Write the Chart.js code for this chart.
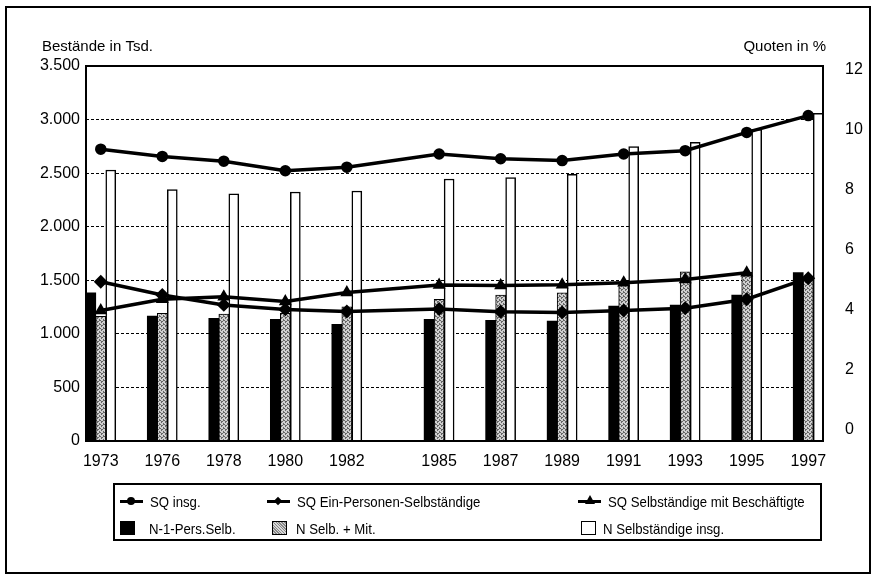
<!DOCTYPE html>
<html>
<head>
<meta charset="utf-8">
<script src="https://cdn.jsdelivr.net/npm/chart.js@4"></script>
<style>
  body { margin: 0; background: #fff; font-family: 'Liberation Sans', Arial, sans-serif; }
  .frame { position: absolute; left: 5px; top: 6px; width: 862px; height: 564px; border: 2px solid #000; }
  #chart { position: absolute; left: 0; top: 0; }
  .legend { position: absolute; left: 113px; top: 483px; width: 705px; height: 54px; border: 2px solid #000; }
  .legend ul { list-style: none; margin: 0; padding: 5px 0 0 0; display: grid; grid-template-columns: 147px 314px 1fr; row-gap: 5px; }
  .legend li { display: flex; align-items: center; font-size: 15px; height: 22px; color: #000; white-space: nowrap; padding-left: 5px; }
  .legend li .txt { display: inline-block; transform: scaleX(0.88); transform-origin: left center; }
  .mark { position: relative; display: inline-block; width: 23px; height: 14px; margin: 0 7px 0 0; flex: none; }
  .mark .ln { position: absolute; left: 0; right: 0; top: 6px; height: 3px; background: #000; }
  .mark .circle { position: absolute; left: 7px; top: 3px; width: 8px; height: 8px; border-radius: 50%; background: #000; }
  .mark .diamond { position: absolute; left: 8px; top: 4px; width: 6px; height: 6px; transform: rotate(45deg); background: #000; }
  .mark .triangle { position: absolute; left: 7px; top: 1px; width: 0; height: 0; border-left: 5px solid transparent; border-right: 5px solid transparent; border-bottom: 9px solid #000; }
  .box { display: inline-block; width: 15px; height: 14px; margin: 0 14px 0 0; border: 1px solid #000; box-sizing: border-box; flex: none; }
  .legend li.c2 .box { margin-left: 5px; margin-right: 9px; }
  .legend li.c3 .box { margin-left: 0; margin-right: 7px; }
  .legend li.c3 .mark { margin-left: -3px; }
</style>
</head>
<body>
<div class="frame"></div>
<canvas id="chart" width="879" height="582"></canvas>
<div class="legend" id="legend"></div>
<script>
const years = ['1973', '1976', '1978', '1980', '1982', '1985', '1987', '1989', '1991', '1993', '1995', '1997'];
const gapAfter = '1982';

// Quoten in % (rechte Achse)
const sqInsg = [9.36, 9.12, 8.96, 8.64, 8.76, 9.20, 9.04, 8.98, 9.20, 9.31, 9.92, 10.48];
const sqEinPersonen = [4.94, 4.50, 4.17, 4.02, 3.95, 4.03, 3.94, 3.92, 3.98, 4.06, 4.36, 5.06];
const sqMitBeschaeftigten = [3.98, 4.36, 4.44, 4.28, 4.58, 4.83, 4.82, 4.84, 4.91, 5.02, 5.24, null];

// Bestände in Tsd. (linke Achse)
const nEinPersSelb = [1384, 1167, 1145, 1136, 1089, 1136, 1126, 1120, 1260, 1269, 1363, 1571];
const nSelbMit = [1164, 1192, 1185, 1192, 1253, 1322, 1363, 1384, 1456, 1580, 1575, 1510];
const nSelbInsg = [2529, 2346, 2308, 2324, 2333, 2445, 2458, 2489, 2747, 2788, 2909, 3058];

const quoteTicks = [0, 2, 4, 6, 8, 10, 12];

const FONT = "'Liberation Sans', Arial, sans-serif";
Chart.defaults.font.family = FONT;
Chart.defaults.color = '#000';

// x position of each year, with the extra half step after 1982
const xPos = years.map((y, i) => i + (i > years.indexOf(gapAfter) ? 0.5 : 0));
const points = values => values.map((v, i) => ({ x: xPos[i], y: v }));

// stippled grey for "N Selb. + Mit."
const greyPattern = (() => {
  const c = document.createElement('canvas');
  c.width = 4; c.height = 4;
  const g = c.getContext('2d');
  g.fillStyle = '#cfcfcf';
  g.fillRect(0, 0, 4, 4);
  g.fillStyle = '#666';
  [[0, 0], [2, 1], [1, 2], [3, 3], [3, 0], [1, 1]].forEach(([x, y]) => g.fillRect(x, y, 1, 1));
  return g.createPattern(c, 'repeat');
})();

const lineDs = (label, data, pointStyle, radius) => ({
  type: 'line', label, data: points(data), yAxisID: 'y1', order: 0,
  borderColor: '#000', borderWidth: 3.5, backgroundColor: '#000',
  pointStyle, pointRadius: radius, pointBackgroundColor: '#000', pointBorderColor: '#000',
  tension: 0, spanGaps: false
});
const barDs = (label, data, fill, border) => ({
  type: 'bar', label, data: points(data), yAxisID: 'y', order: 1,
  backgroundColor: fill, borderColor: '#000', borderWidth: border,
  barThickness: 10
});

const frameAndTitles = {
  id: 'frameAndTitles',
  afterDraw(chart) {
    const { ctx, chartArea: a } = chart;
    ctx.save();
    ctx.strokeStyle = '#000';
    ctx.lineWidth = 2;
    ctx.strokeRect(a.left, a.top, a.right - a.left, a.bottom - a.top);
    ctx.fillStyle = '#000';
    ctx.font = '15px ' + FONT;
    ctx.textBaseline = 'middle';
    ctx.textAlign = 'left';
    ctx.fillText('Bestände in Tsd.', a.left - 44, a.top - 19);
    ctx.textAlign = 'right';
    ctx.fillText('Quoten in %', a.right + 3, a.top - 19);
    ctx.restore();
  }
};

const htmlLegend = {
  id: 'htmlLegend',
  afterUpdate(chart) {
    const box = document.getElementById('legend');
    box.innerHTML = '';
    const ul = document.createElement('ul');
    chart.data.datasets.forEach((ds, i) => {
      const li = document.createElement('li');
      li.className = 'c' + (i % 3 + 1);
      const mark = document.createElement('span');
      if (ds.type === 'line') {
        mark.className = 'mark';
        const shape = { circle: 'circle', rectRot: 'diamond', triangle: 'triangle' }[ds.pointStyle];
        mark.innerHTML = '<span class="ln"></span><span class="' + shape + '"></span>';
      } else {
        mark.className = 'box';
        mark.style.background = ds.legendFill;
      }
      const txt = document.createElement('span');
      txt.className = 'txt';
      txt.textContent = ds.label;
      li.appendChild(mark);
      li.appendChild(txt);
      ul.appendChild(li);
    });
    box.appendChild(ul);
  }
};

const datasets = [
  lineDs('SQ insg.', sqInsg, 'circle', 4),
  lineDs('SQ Ein-Personen-Selbständige', sqEinPersonen, 'rectRot', 4.5),
  lineDs('SQ Selbständige mit Beschäftigte', sqMitBeschaeftigten, 'triangle', 4),
  Object.assign(barDs('N-1-Pers.Selb.', nEinPersSelb, '#000', 0), { legendFill: '#000' }),
  Object.assign(barDs('N Selb. + Mit.', nSelbMit, greyPattern, 1), { legendFill: 'repeating-linear-gradient(45deg,#888 0 1px,#d8d8d8 1px 2px)' }),
  Object.assign(barDs('N Selbständige insg.', nSelbInsg, '#fff', 1.5), { legendFill: '#fff' })
];

new Chart(document.getElementById('chart'), {
  data: { datasets },
  options: {
    responsive: false,
    animation: false,
    layout: { padding: { left: 0, right: 0, top: 66, bottom: 101 } },
    plugins: { legend: { display: false }, tooltip: { enabled: false } },
    scales: {
      x: {
        type: 'linear', min: -0.24, max: 11.74, offset: false,
        afterBuildTicks: axis => { axis.ticks = xPos.map(v => ({ value: v })); },
        afterFit: axis => { axis.height = 40; },
        grid: { display: false, offset: false },
        border: { display: false },
        ticks: { autoSkip: false, maxRotation: 0, padding: 3, font: { size: 16 }, callback: (v, i) => years[i] }
      },
      y: {
        position: 'left', min: 0, max: 3500,
        afterFit: axis => { axis.width = 86; },
        grid: { color: '#000', lineWidth: 1, drawTicks: false },
        border: { display: false, dash: [3, 2] },
        ticks: { stepSize: 500, padding: 6, font: { size: 16 }, callback: v => v.toLocaleString('de-DE') }
      },
      y1: {
        position: 'right', min: -0.367, max: 12.133,
        afterBuildTicks: axis => { axis.ticks = quoteTicks.map(v => ({ value: v })); },
        afterFit: axis => { axis.width = 56; },
        grid: { display: false },
        border: { display: false },
        ticks: { padding: 14, font: { size: 16 }, callback: v => v }
      }
    }
  },
  plugins: [frameAndTitles, htmlLegend]
});
</script>
</body>
</html>
